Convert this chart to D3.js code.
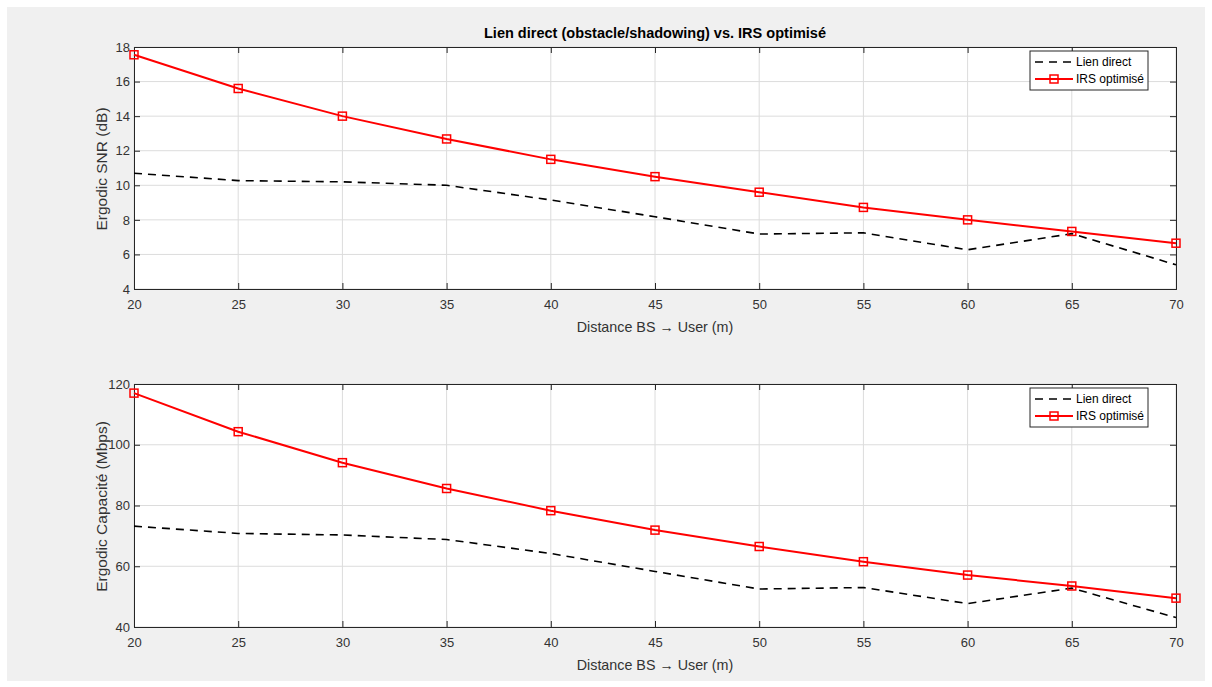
<!DOCTYPE html>
<html>
<head>
<meta charset="utf-8">
<script src="https://cdn.jsdelivr.net/npm/d3@7"></script>
<style>
  body { margin: 0; background: #fff; }
  svg { display: block; font-family: "Liberation Sans", Arial, sans-serif; }
</style>
</head>
<body>
<script>
// distances BS -> user (m)
const distances = [20, 25, 30, 35, 40, 45, 50, 55, 60, 65, 70];

// ergodic SNR (dB)
const snrDirect = [10.7, 10.27, 10.2, 10.0, 9.15, 8.18, 7.18, 7.25, 6.27, 7.2, 5.4];
const snrIRS = [17.55, 15.6, 14.0, 12.68, 11.5, 10.5, 9.6, 8.72, 8.0, 7.33, 6.65];

// ergodic capacity (Mbps)
const capDirect = [73.2, 70.8, 70.3, 68.8, 64.2, 58.3, 52.5, 53.0, 47.7, 52.8, 43.1];
const capIRS = [117.0, 104.3, 94.1, 85.6, 78.3, 71.9, 66.5, 61.5, 57.1, 53.5, 49.5];

const xTicks = [20, 25, 30, 35, 40, 45, 50, 55, 60, 65, 70];
const snrTicks = [4, 6, 8, 10, 12, 14, 16, 18];
const capTicks = [40, 60, 80, 100, 120];

const legendLabels = ["Lien direct", "IRS optimisé"];

const width = 1212, height = 687;

const svg = d3.select("body").append("svg")
  .attr("width", width)
  .attr("height", height);

svg.append("rect")
  .attr("x", 7).attr("y", 7)
  .attr("width", 1198).attr("height", 674)
  .attr("fill", "#f0f0f0");

svg.append("text")
  .attr("x", 655).attr("y", 38)
  .attr("text-anchor", "middle")
  .attr("font-size", 14)
  .attr("font-weight", "bold")
  .attr("fill", "#000")
  .attr("textLength", 342)
  .attr("lengthAdjust", "spacingAndGlyphs")
  .text("Lien direct (obstacle/shadowing) vs. IRS optimisé");

function panel(top, bottom, yDomain, yTicks, direct, irs, yLabel) {
  const left = 134, right = 1176;
  const x = d3.scaleLinear().domain([20, 70]).range([left, right]);
  const y = d3.scaleLinear().domain(yDomain).range([bottom, top]);

  const g = svg.append("g");

  g.append("rect")
    .attr("x", left).attr("y", top)
    .attr("width", right - left).attr("height", bottom - top)
    .attr("fill", "#fff");

  // grid
  g.append("g").selectAll("line").data(xTicks).join("line")
    .attr("x1", d => x(d)).attr("x2", d => x(d))
    .attr("y1", top).attr("y2", bottom)
    .attr("stroke", "#dcdcdc").attr("stroke-width", 1);
  g.append("g").selectAll("line").data(yTicks).join("line")
    .attr("x1", left).attr("x2", right)
    .attr("y1", d => y(d)).attr("y2", d => y(d))
    .attr("stroke", "#dcdcdc").attr("stroke-width", 1);

  // axes
  const xb = g.append("g").attr("transform", `translate(0,${bottom})`)
    .call(d3.axisBottom(x).tickValues(xTicks).tickSize(-6).tickPadding(11).tickFormat(d3.format("d")));
  const xt = g.append("g").attr("transform", `translate(0,${top})`)
    .call(d3.axisTop(x).tickValues(xTicks).tickSize(-6).tickFormat(""));
  const yl = g.append("g").attr("transform", `translate(${left},0)`)
    .call(d3.axisLeft(y).tickValues(yTicks).tickSize(-6).tickPadding(4).tickFormat(d3.format("d")));
  const yr = g.append("g").attr("transform", `translate(${right},0)`)
    .call(d3.axisRight(y).tickValues(yTicks).tickSize(-6).tickFormat(""));
  [xb, xt, yl, yr].forEach(a => {
    a.select(".domain").attr("stroke", "#262626").attr("stroke-width", 1);
    a.selectAll(".tick line").attr("stroke", "#262626");
    a.selectAll("text").attr("fill", "#333").attr("font-size", 13)
      .attr("font-family", "Liberation Sans, Arial, sans-serif");
  });

  const line = d3.line().x((d, i) => x(distances[i])).y(d => y(d));

  g.append("path").datum(direct)
    .attr("d", line)
    .attr("fill", "none")
    .attr("stroke", "#000")
    .attr("stroke-width", 1.6)
    .attr("stroke-dasharray", "8,6");

  g.append("path").datum(irs)
    .attr("d", line)
    .attr("fill", "none")
    .attr("stroke", "#ff0000")
    .attr("stroke-width", 2);

  g.append("g").selectAll("rect").data(irs).join("rect")
    .attr("x", (d, i) => x(distances[i]) - 4)
    .attr("y", d => y(d) - 4)
    .attr("width", 8).attr("height", 8)
    .attr("fill", "none")
    .attr("stroke", "#ff0000")
    .attr("stroke-width", 1.5);

  // labels
  svg.append("text")
    .attr("x", 655).attr("y", bottom + 43)
    .attr("text-anchor", "middle")
    .attr("font-size", 14.3)
    .attr("fill", "#333")
    .text("Distance BS \u2192 User (m)");

  svg.append("text")
    .attr("transform", `translate(107,${(top + bottom) / 2 + 1}) rotate(-90)`)
    .attr("text-anchor", "middle")
    .attr("font-size", 15.5)
    .attr("fill", "#333")
    .text(yLabel);

  // legend
  const lg = svg.append("g").attr("transform", `translate(1030,${top + 4})`);
  lg.append("rect")
    .attr("width", 118).attr("height", 39)
    .attr("fill", "#fff").attr("stroke", "#262626").attr("stroke-width", 1);
  lg.append("line")
    .attr("x1", 5).attr("x2", 43).attr("y1", 11).attr("y2", 11)
    .attr("stroke", "#000").attr("stroke-width", 1.6).attr("stroke-dasharray", "8,6");
  lg.append("line")
    .attr("x1", 5).attr("x2", 43).attr("y1", 28).attr("y2", 28)
    .attr("stroke", "#ff0000").attr("stroke-width", 2);
  lg.append("rect")
    .attr("x", 20).attr("y", 24).attr("width", 8).attr("height", 8)
    .attr("fill", "none").attr("stroke", "#ff0000").attr("stroke-width", 1.5);
  lg.selectAll("text.lbl").data(legendLabels).join("text")
    .attr("class", "lbl")
    .attr("x", 46)
    .attr("y", (d, i) => 15 + i * 17)
    .attr("font-size", 12)
    .attr("fill", "#000")
    .text(d => d);
}

panel(47, 289, [4, 18], snrTicks, snrDirect, snrIRS, "Ergodic SNR (dB)");
panel(384, 627, [40, 120], capTicks, capDirect, capIRS, "Ergodic Capacité (Mbps)");
</script>
</body>
</html>
